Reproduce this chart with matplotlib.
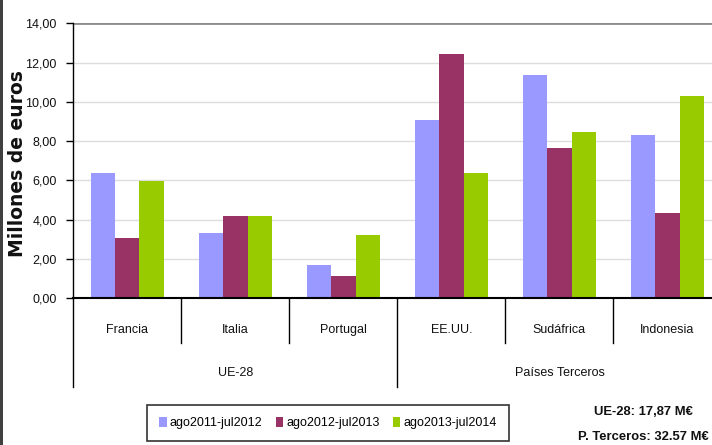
import matplotlib
matplotlib.use("Agg")
import matplotlib.pyplot as plt
from matplotlib import font_manager
from matplotlib.patches import Rectangle, Patch
from matplotlib.transforms import blended_transform_factory

# ---------------- data ----------------
categories = ["Francia", "Italia", "Portugal", "EE.UU.", "Sudáfrica", "Indonesia"]
groups = ["UE-28", "Países Terceros"]
group_members = [3, 3]
series_names = ["ago2011-jul2012", "ago2012-jul2013", "ago2013-jul2014"]
s2011 = [6.35, 3.29, 1.66, 9.05, 11.34, 8.33]
s2012 = [3.04, 4.16, 1.10, 12.41, 7.67, 4.31]
s2013 = [5.94, 4.16, 3.19, 6.35, 8.44, 10.32]
series_values = [s2011, s2012, s2013]
colors = ["#9999FF", "#993366", "#99CC00"]
ytick_values = [0, 2, 4, 6, 8, 10, 12, 14]
ytick_labels = ["0,00", "2,00", "4,00", "6,00", "8,00", "10,00", "12,00", "14,00"]
ylabel = "Millones de euros"
totals_text = ["UE-28: 17,87 M€", "P. Terceros: 32.57 M€"]

# ---------------- fonts ----------------
names = {f.name for f in font_manager.fontManager.ttflist}
narrow_ok = "Liberation Sans Narrow" in names
base = "Liberation Sans Narrow" if narrow_ok else "Liberation Sans"
plt.rcParams["font.family"] = [base, "DejaVu Sans"]
FS = 10.5 if narrow_ok else 9.0
FSB = 11.5 if narrow_ok else 9.4

W, H = 712, 445
fig = plt.figure(figsize=(W / 100, H / 100), dpi=100)
fig.patch.set_facecolor("white")

def fx(px):
    return px / W

def fy(py):
    return 1 - py / H

ax_left, ax_right, ax_top, ax_bottom = 73.3, 721.5, 23.3, 298.0
ax = fig.add_axes([fx(ax_left), fy(ax_bottom), fx(ax_right - ax_left), (ax_bottom - ax_top) / H])

n = len(categories)
bw = 0.225
offsets = [-bw, 0, bw]
x = list(range(n))
for vals, off, c, name in zip(series_values, offsets, colors, series_names):
    ax.bar([xi + off for xi in x], vals, width=bw, color=c, label=name, zorder=3, linewidth=0)

ax.set_xlim(-0.5, n - 0.5)
ax.set_ylim(0, 14)
ax.set_yticks(ytick_values)
ax.set_yticklabels(ytick_labels, fontsize=FS, color="#111111")
ax.set_xticks([])
ax.tick_params(axis="y", length=5, width=1, color="black", pad=7)

for v in ytick_values[1:-1]:
    ax.axhline(v, color="#dddddd", lw=1, zorder=1)
ax.axhline(14, color="#8c8c8c", lw=2, zorder=2)

for s in ["top", "right"]:
    ax.spines[s].set_visible(False)
ax.spines["left"].set_color("black")
ax.spines["left"].set_linewidth(1)
ax.spines["bottom"].set_color("black")
ax.spines["bottom"].set_linewidth(1.5)
ax.spines["bottom"].set_zorder(5)

# category axis (multi-level)
tr = blended_transform_factory(ax.transData, fig.transFigure)
for i, cat in enumerate(categories):
    ax.text(i, fy(330), cat, transform=tr, ha="center", va="center", fontsize=FS,
            color="#111111", clip_on=False)

bounds = [-0.5]
acc = -0.5
for m in group_members:
    acc += m
    bounds.append(acc)
for b in [i - 0.5 for i in range(n + 1)]:
    bottom = 387 if b in bounds else 343
    ax.plot([b, b], [fy(298), fy(bottom)], transform=tr, color="black", lw=1, clip_on=False)

start = 0
for g, m in zip(groups, group_members):
    ax.text(start + (m - 1) / 2, fy(373), g, transform=tr, ha="center", va="center",
            fontsize=FS, color="#111111", clip_on=False)
    start += m

# y label
fig.text(fx(17.5), fy(164), ylabel, rotation=90, ha="center", va="center",
         fontsize=13.5, fontweight="bold", family=["DejaVu Sans"], color="#111111")

# legend
handles = [Patch(facecolor=c, edgecolor="none", label=nm) for c, nm in zip(colors, series_names)]
leg = fig.legend(handles=handles, loc="center",
                 bbox_to_anchor=(fx(328), fy(423.3)),
                 ncol=3, fontsize=FS, handlelength=0.6, handleheight=0.8, handletextpad=0.25,
                 columnspacing=1.05, frameon=True, fancybox=False, borderaxespad=0,
                 borderpad=0.95)
leg.get_frame().set_edgecolor("black")
leg.get_frame().set_linewidth(1.2)

# totals
fig.text(fx(643), fy(411.7), totals_text[0], ha="center", va="center", fontsize=FSB,
         fontweight="bold", color="#111111")
fig.text(fx(643), fy(436.7), totals_text[1], ha="center", va="center", fontsize=FSB,
         fontweight="bold", color="#111111")

# left frame border
fig.patches.append(Rectangle((0, 0), fx(2.7), 1, transform=fig.transFigure,
                             facecolor="#404040", edgecolor="none", zorder=10))

fig.savefig("out.png", dpi=100)
